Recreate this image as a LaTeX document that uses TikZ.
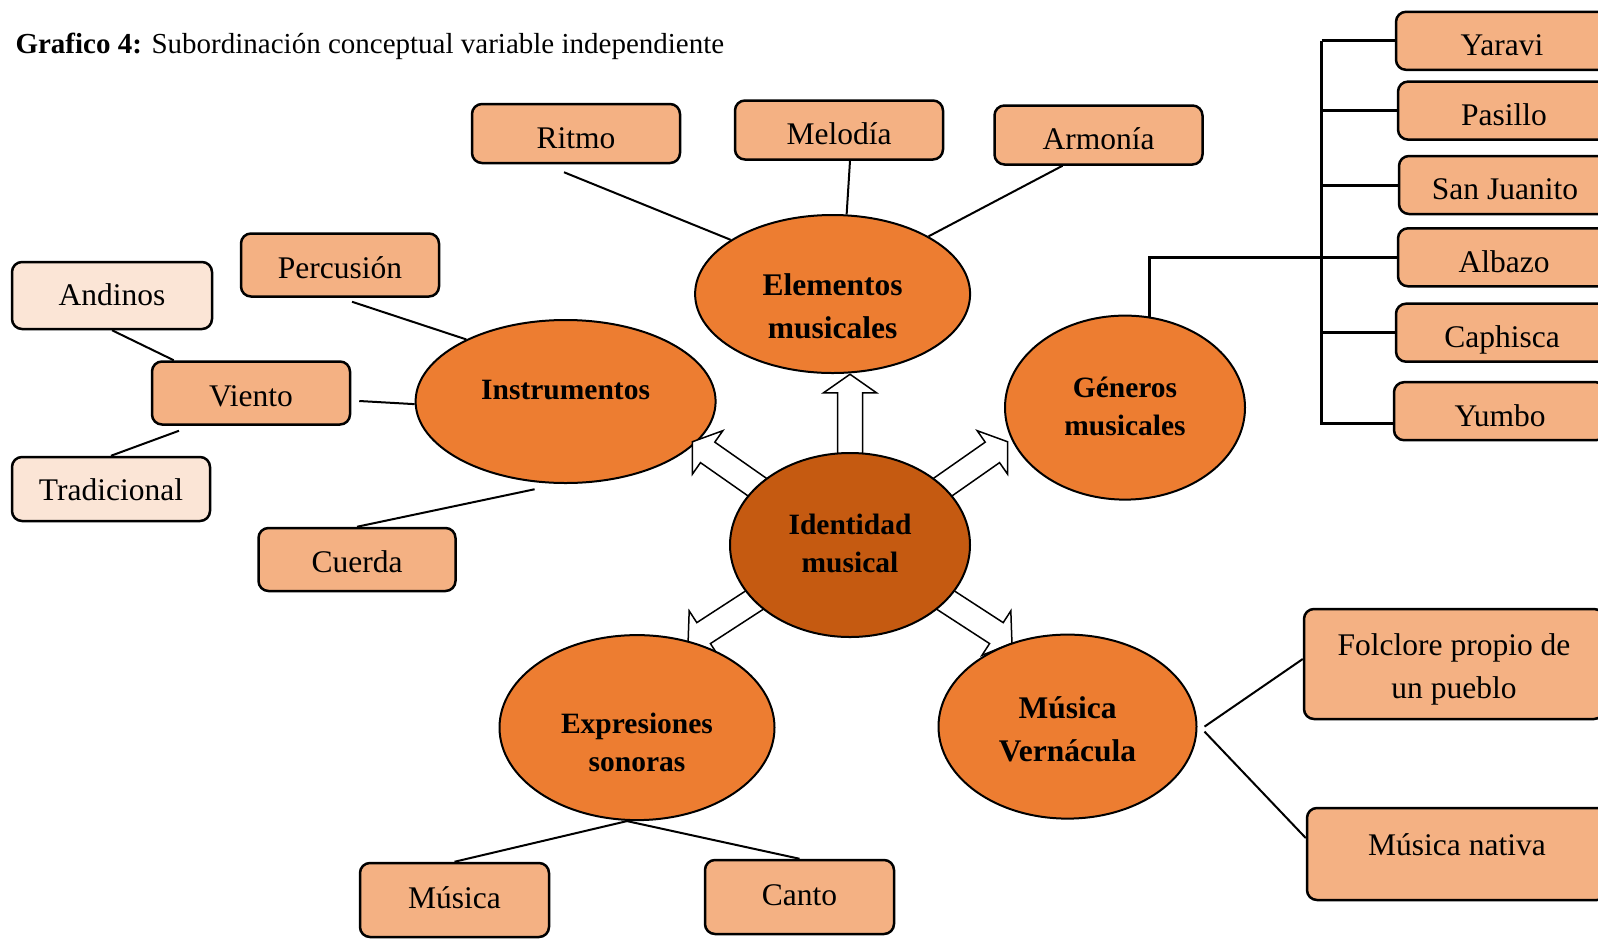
\documentclass[tikz,border=0pt]{standalone}
\usepackage{fontspec}
\setmainfont{Liberation Serif}
\usepackage{tikz}
\usetikzlibrary{shapes.geometric,shapes.arrows,backgrounds,positioning}
\definecolor{orangeBlase}{HTML}{ED7D31}
\definecolor{orangeDunkel}{HTML}{C55A11}
\definecolor{orangeKasten}{HTML}{F4B183}
\definecolor{orangeHell}{HTML}{FBE5D6}
%Ebene fuer die Ellipsen, die ueber den Pfeilen liegen
\pgfdeclarelayer{vorne}
\pgfsetlayers{background,main,vorne}
%Text im Knoten verschieben, ohne dass sich die Knotengroesse aendert
\newcommand{\zeilen}[2]{\raisebox{#1}[\height][\depth]{\begin{tabular}{@{}c@{}}#2\end{tabular}}}

\begin{document}
\begin{tikzpicture}[x=1pt,y=-1pt,
  kasten/.style={draw=black,line width=2.5pt,rounded corners=10pt,fill=orangeKasten,minimum width=208pt,minimum height=59pt,inner sep=0pt,font=\fontsize{31.5}{43}\selectfont},
  wort/.style={kasten,text height=29.6pt,text depth=0pt},
  hellwort/.style={wort,fill=orangeHell},
  blase/.style={ellipse,draw=black,line width=2pt,fill=orangeBlase,inner sep=0pt,font=\bfseries\fontsize{29.5}{38}\selectfont},
  grossblase/.style={blase,font=\bfseries\fontsize{31.5}{43}\selectfont},
  verbindung/.style={line width=2pt},
  klammer/.style={line width=3pt},
  pfeil/.style={single arrow,draw=black,line width=1.5pt,fill=white,inner sep=11.75pt,single arrow head extend=14pt,single arrow tip angle=110,minimum height=85pt}]
\useasboundingbox (0,0) rectangle (1598,938);
%Ueberschrift
\node[anchor=base west,font=\fontsize{29}{34}\selectfont] (titel) at (12,53) {\textbf{Grafico 4:} Subordinación conceptual variable independiente};
%Ellipsen
\node[grossblase,minimum width=275pt,minimum height=158pt] (elem) at (832.6,294) {\zeilen{-14pt}{Elementos\\musicales}};
\node[blase,minimum width=300pt,minimum height=163pt] (inst) at (565.6,401.5) {\zeilen{10pt}{Instrumentos}};
\node[blase,minimum width=240pt,minimum height=184pt] (gen) at (1125,407.6) {\zeilen{-1pt}{Géneros\\musicales}};
\begin{pgfonlayer}{vorne}
\node[blase,fill=orangeDunkel,minimum width=240pt,minimum height=184pt] (idm) at (850,545) {\zeilen{-1pt}{Identidad\\musical}};
\node[blase,minimum width=275pt,minimum height=185pt] (expr) at (637,727.6) {\zeilen{-17pt}{Expresiones\\sonoras}};
\node[grossblase,minimum width=258pt,minimum height=184pt] (vern) at (1067.5,726.6) {\zeilen{-5pt}{Música\\Vernácula}};
\end{pgfonlayer}
%Blockpfeile von der Mitte aus (Ansatzwinkel/Richtung)
\foreach \w/\r in {90/90,148/145,32/35,210/213,330/327}{
\node[pfeil,rotate=\r,xshift=-8pt,anchor=tail] (pfeil\w) at (idm.\w) {};
}
%Kaesten
\node[wort] (ritmo) at (576,133.5) {Ritmo};
\node[wort] (melodia) at (839,130) {Melodía};
\node[wort] (armonia) at (1098.5,135) {Armonía};
\node[wort,minimum width=198pt,minimum height=63pt,text height=27pt] (percusion) at (340,265) {Percusión};
\node[hellwort,minimum width=200pt,minimum height=67pt,text height=20pt] (andinos) at (112,295.5) {Andinos};
\node[wort,minimum width=198pt,minimum height=63pt,text height=26pt] (viento) at (251,393) {Viento};
\node[hellwort,minimum width=198pt,minimum height=64pt,text height=23pt] (tradicional) at (111,489) {Tradicional};
\node[wort,minimum width=197pt,minimum height=63pt,text height=26pt] (cuerda) at (357,559.5) {Cuerda};
\node[wort,minimum width=189pt,minimum height=74pt,text height=17pt] (musica) at (454.5,900) {Música};
\node[wort,minimum width=189pt,minimum height=74pt,text height=16pt] (canto) at (799.5,897) {Canto};
\node[kasten,minimum width=300pt,minimum height=110pt] (folclore) at (1454,664) {\zeilen{-4pt}{Folclore propio de\\un pueblo}};
\node[wort,minimum width=300pt,minimum height=92pt] (nativa) at (1457,854) {\zeilen{16pt}{Música nativa}};
%Gattungen rechts (werden vom Bildrand abgeschnitten)
\foreach \name/\txt/\xpos/\ypos in {yaravi/Yaravi/1502/40.8,pasillo/Pasillo/1504/110.6,sanjuanito/San Juanito/1505/185,albazo/Albazo/1504/257.3,caphisca/Caphisca/1502/332.7,yumbo/Yumbo/1500/411.2}{
\node[wort,minimum width=212pt,minimum height=58pt] (\name) at (\xpos,\ypos) {\txt};
}
%Verbindungen
\draw[verbindung] ([xshift=-12pt,yshift=-8pt]ritmo.south) -- (elem.152);
\draw[verbindung] ([xshift=11pt]melodia.south) -- (elem.80);
\draw[verbindung] ([xshift=-36pt]armonia.south) -- (elem.31);
\draw[verbindung] ([xshift=12pt,yshift=-4pt]percusion.south) -- (inst.148);
\draw[verbindung] ([xshift=8pt,yshift=-8pt]viento.east) -- (inst.181);
\draw[verbindung] (andinos.south) -- ([xshift=23pt]viento.north west);
\draw[verbindung] ([xshift=-72pt,yshift=-5pt]viento.south) -- (tradicional.north);
\draw[verbindung] (cuerda.north) -- ([yshift=-7pt]inst.249);
\draw[verbindung] ([xshift=-10pt]expr.south) -- (musica.north);
\draw[verbindung] ([xshift=-10pt]expr.south) -- (canto.north);
\draw[verbindung] ([xshift=7pt]vern.east) -- ([yshift=5pt]folclore.west);
\draw[verbindung] ([xshift=7pt,yshift=-5pt]vern.east) -- ([yshift=16pt]nativa.west);
%Klammer zu den Gattungen
\coordinate (kl) at (1321.7,0);
\coordinate (yumboende) at ([yshift=-12pt]yumbo.west);
\draw[klammer] (gen.75) |- (albazo.west);
\draw[klammer] (kl |- yaravi.west) -- (kl |- yumboende) -- (yumboende);
\foreach \k in {yaravi,pasillo,sanjuanito,caphisca}{
\draw[klammer] (kl |- \k.west) -- (\k.west);
}
\end{tikzpicture}
\end{document}
